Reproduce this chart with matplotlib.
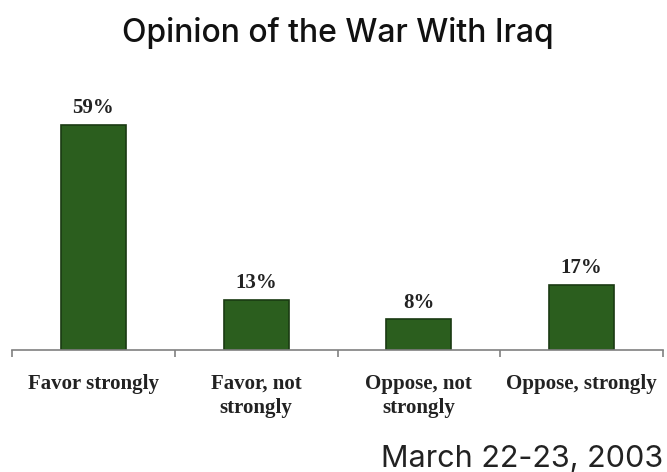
import matplotlib
matplotlib.use("Agg")
import matplotlib.pyplot as plt

categories = ["Favor strongly", "Favor, not\nstrongly", "Oppose, not\nstrongly", "Oppose, strongly"]
values = [59, 13, 8, 17]
value_labels = ["59%", "13%", "8%", "17%"]
title = "Opinion of the War With Iraq"
note = "March 22-23, 2003"

W, H = 667, 472
fig = plt.figure(figsize=(W / 100, H / 100), dpi=100)
ax = fig.add_axes([12 / W, (H - 350) / H, (663 - 12) / W, 248 / H])

x = list(range(len(categories)))
ax.bar(x, values, width=0.4, color="#2b5e1e", edgecolor="#1a3a12", linewidth=1.2)
ax.set_xlim(-0.5, len(categories) - 0.5)
ax.set_ylim(0, 65)

for s in ["top", "left", "right"]:
    ax.spines[s].set_visible(False)
ax.spines["bottom"].set_color("#808080")
ax.spines["bottom"].set_linewidth(1.2)
ax.set_yticks([])
ax.set_xticks([i - 0.5 for i in range(len(categories) + 1)])
ax.set_xticklabels([])
ax.tick_params(axis="x", direction="out", length=5, width=1.2, color="#808080")

serif = dict(family="Liberation Serif", weight="bold", color="#222222")
for xi, v, lab in zip(x, values, value_labels):
    ax.annotate(lab, (xi, v), xytext=(0, 8.6), textcoords="offset points",
                ha="center", va="baseline", fontsize=15, **serif)
for xi, c in zip(x, categories):
    ax.annotate(c, (xi, 0), xytext=(0, -17), textcoords="offset points",
                ha="center", va="top", fontsize=15, linespacing=1.28,
                annotation_clip=False, **serif)

fig.text(338 / W, 1 - 42 / H, title, ha="center", va="baseline",
         fontsize=23, family="Inter", weight="medium", color="#111111")
fig.text(663 / W, 1 - 467 / H, note, ha="right", va="baseline",
         fontsize=22, family="Inter", color="#222222")

fig.savefig("out.png", dpi=100)
